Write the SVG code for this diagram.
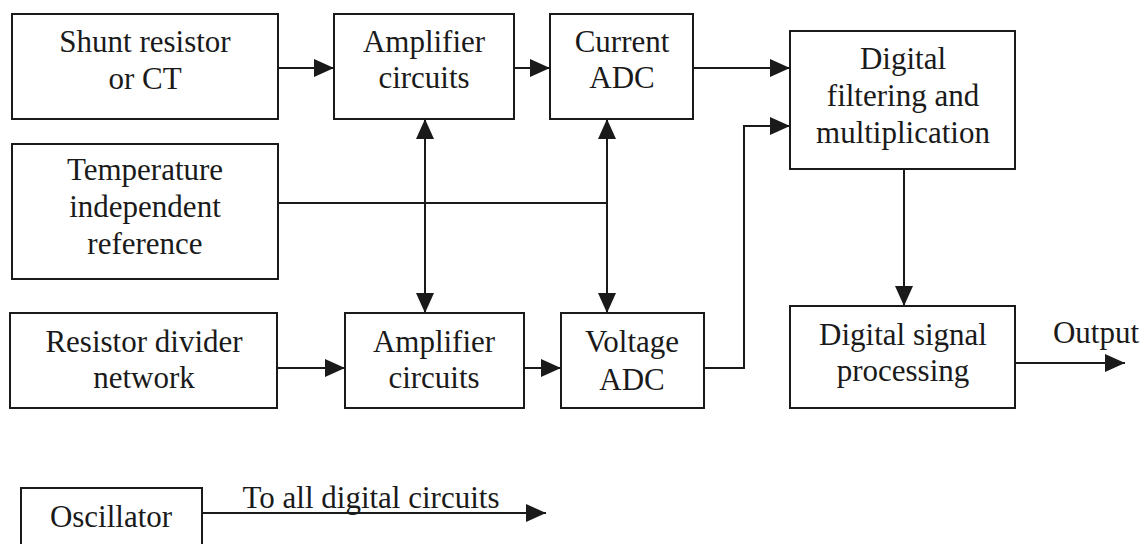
<svg xmlns="http://www.w3.org/2000/svg" width="1147" height="544" viewBox="0 0 1147 544">
<style>
.box{fill:#fff;stroke:#1a1a1a;stroke-width:2}
.ln{fill:none;stroke:#1a1a1a;stroke-width:2}
text{font-family:"Liberation Serif","Times New Roman",serif;font-size:31px;fill:#1a1a1a;text-anchor:middle}
</style>
<defs>
<marker id="ah" markerUnits="userSpaceOnUse" markerWidth="22" markerHeight="20" refX="20" refY="9" orient="auto-start-reverse">
<path d="M0,0 L20,9 L0,18 Z" fill="#1a1a1a"/>
</marker>
</defs>
<rect width="1147" height="544" fill="#fff"/>
<g id="connectors">
<line class="ln" x1="278" y1="68" x2="334" y2="68" marker-end="url(#ah)"/>
<line class="ln" x1="514" y1="68" x2="550" y2="68" marker-end="url(#ah)"/>
<line class="ln" x1="693" y1="68" x2="790" y2="68" marker-end="url(#ah)"/>
<line class="ln" x1="425" y1="119" x2="425" y2="313" marker-start="url(#ah)" marker-end="url(#ah)"/>
<line class="ln" x1="607" y1="119" x2="607" y2="313" marker-start="url(#ah)" marker-end="url(#ah)"/>
<line class="ln" x1="278" y1="203" x2="607" y2="203"/>
<line class="ln" x1="278" y1="368" x2="345" y2="368" marker-end="url(#ah)"/>
<line class="ln" x1="524" y1="368" x2="561" y2="368" marker-end="url(#ah)"/>
<polyline class="ln" points="704,368 744,368 744,126 790,126" marker-end="url(#ah)"/>
<line class="ln" x1="904" y1="169" x2="904" y2="306" marker-end="url(#ah)"/>
<line class="ln" x1="1015" y1="363" x2="1125" y2="363" marker-end="url(#ah)"/>
<line class="ln" x1="202" y1="513" x2="546" y2="513" marker-end="url(#ah)"/>
<text x="371" y="508">To all digital circuits</text>
<text x="1096" y="343">Output</text>
</g>
<g id="shunt"><rect class="box" x="12" y="14" width="266" height="105"/><text x="145" y="52">Shunt resistor</text><text x="145" y="89">or CT</text></g>
<g id="amp-top"><rect class="box" x="334" y="14" width="180" height="105"/><text x="424" y="52">Amplifier</text><text x="424" y="88">circuits</text></g>
<g id="current-adc"><rect class="box" x="550" y="14" width="143" height="105"/><text x="622" y="52">Current</text><text x="622" y="88">ADC</text></g>
<g id="digital-filter"><rect class="box" x="790" y="31" width="225" height="138"/><text x="903" y="69">Digital</text><text x="903" y="106">filtering and</text><text x="903" y="143">multiplication</text></g>
<g id="temp-ref"><rect class="box" x="12" y="144" width="266" height="135"/><text x="145" y="180">Temperature</text><text x="145" y="217">independent</text><text x="145" y="254">reference</text></g>
<g id="resistor-divider"><rect class="box" x="10" y="313" width="267" height="95"/><text x="144" y="352">Resistor divider</text><text x="144" y="388">network</text></g>
<g id="amp-bottom"><rect class="box" x="345" y="313" width="179" height="95"/><text x="434" y="352">Amplifier</text><text x="434" y="388">circuits</text></g>
<g id="voltage-adc"><rect class="box" x="561" y="313" width="143" height="95"/><text x="632" y="352">Voltage</text><text x="632" y="390">ADC</text></g>
<g id="dsp"><rect class="box" x="790" y="306" width="225" height="102"/><text x="903" y="345">Digital signal</text><text x="903" y="381">processing</text></g>
<g id="oscillator"><rect class="box" x="21" y="488" width="181" height="62"/><text x="111" y="527">Oscillator</text></g>
</svg>
